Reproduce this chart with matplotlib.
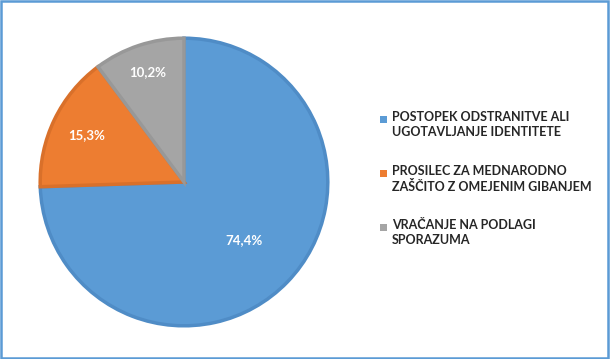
import numpy as np
import matplotlib
matplotlib.use("Agg")
import matplotlib.pyplot as plt
from matplotlib.patches import Rectangle

# shares of each category (percent)
labels = [
    "POSTOPEK ODSTRANITVE ALI\nUGOTAVLJANJE IDENTITETE",
    "PROSILEC ZA MEDNARODNO\nZAŠČITO Z OMEJENIM GIBANJEM",
    "VRAČANJE NA PODLAGI\nSPORAZUMA",
]
values = [74.4, 15.3, 10.2]
pct_text = ["74,4%", "15,3%", "10,2%"]
colors = ["#5b9bd5", "#ed7d31", "#a5a5a5"]
edge_colors = ["#4f8cc6", "#d9702a", "#989898"]
label_dist = [0.57, 0.74, 0.79]

plt.rcParams["font.family"] = ["Lato", "DejaVu Sans"]

W, H = 610, 359
fig = plt.figure(figsize=(W / 100, H / 100), dpi=100)

# pie axes: centre (184, 182) from top, radius ~146 px
cx, cy, r = 184, 182, 146
ax = fig.add_axes([(cx - r) / W, (H - cy - r) / H, 2 * r / W, 2 * r / H])
wedges, _ = ax.pie(
    values,
    colors=colors,
    startangle=90,
    counterclock=False,
    radius=0.985,
    wedgeprops=dict(linewidth=2.5),
)
for w, ec in zip(wedges, edge_colors):
    w.set_edgecolor(ec)
    w.set_joinstyle("miter")

for w, txt, d in zip(wedges, pct_text, label_dist):
    ang = np.deg2rad((w.theta1 + w.theta2) / 2)
    ax.text(d * np.cos(ang), d * np.sin(ang), txt, color="white",
            fontsize=9.5, fontweight="bold", ha="center", va="center")
ax.set_xlim(-1, 1)
ax.set_ylim(-1, 1)
ax.set_aspect("equal")
ax.axis("off")

# legend drawn by hand so markers sit on first line
lx, ly, step = 380 / W, (H - 111) / H, 54 / H
sq_w, sq_h = 7 / W, 7 / H
for i, (lab, c) in enumerate(zip(labels, colors)):
    y = ly - i * step
    fig.patches.append(Rectangle((lx, y - sq_h - 5 / H), sq_w, sq_h,
                                 transform=fig.transFigure, facecolor=c,
                                 edgecolor="none"))
    fig.text(lx + 12 / W, y, lab, fontsize=9, fontweight="bold",
             color="#262626", va="top", ha="left", linespacing=1.3)

# outer frame
fig.patches.append(Rectangle((0.5 / W, 1.5 / H), (W - 2.5) / W, (H - 2.5) / H,
                             transform=fig.transFigure, facecolor="none",
                             edgecolor="#5b9bd5", linewidth=1.8))

fig.savefig("out.png", dpi=100)
